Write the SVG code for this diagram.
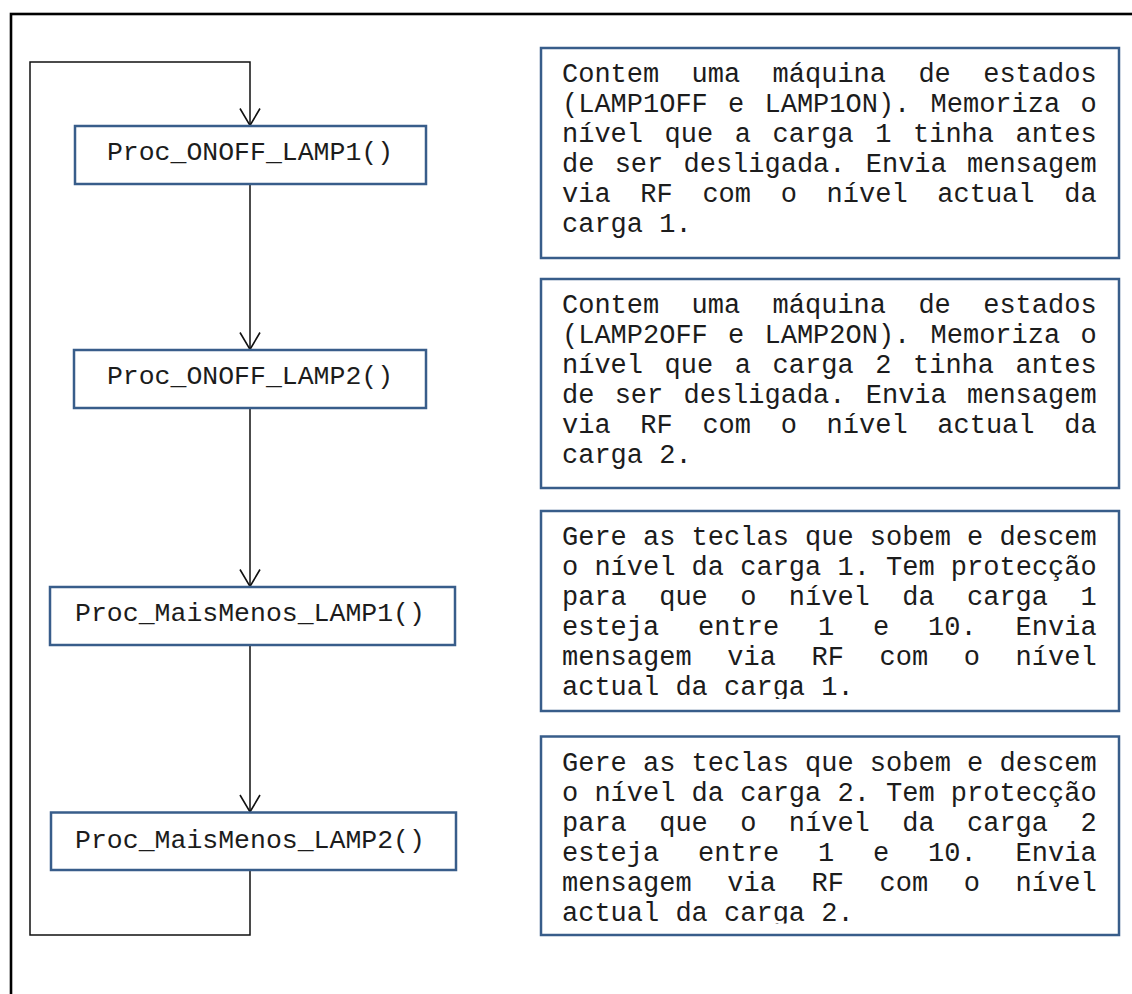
<svg xmlns="http://www.w3.org/2000/svg" width="1132" height="994" viewBox="0 0 1132 994">
<style>
.frame{fill:none;stroke:#000;stroke-width:2.6}
.box{fill:#fff;stroke:#385D8A;stroke-width:2.5}
.lbl{font-family:"Liberation Mono","Courier New",monospace;font-size:26.5px;fill:#1c1c1c;text-anchor:middle}
.txt{font-family:"Liberation Mono","Courier New",monospace;font-size:27px;fill:#1c1c1c}
.conn{fill:none;stroke:#111;stroke-width:1.5}
</style>
<defs>
<marker id="arr" markerUnits="userSpaceOnUse" markerWidth="24" markerHeight="26" viewBox="-20 -13 24 26" refX="0" refY="0" orient="auto" overflow="visible">
<path d="M -17 -10 L 0 0 L -17 10" fill="none" stroke="#111" stroke-width="1.6"/>
</marker>
<clipPath id="clipC"><rect x="541" y="511" width="578" height="188"/></clipPath>
<clipPath id="clipD"><rect x="541" y="736" width="578" height="187.5"/></clipPath>
</defs>
<rect width="1132" height="994" fill="#fff"/>
<rect class="frame" x="11" y="14" width="1140" height="1000"/>

<g id="connectors">
<path class="conn" d="M250 870 V935 H30 V62 H250 V125.5" marker-end="url(#arr)"/>
<path class="conn" d="M250 184 V349.5" marker-end="url(#arr)"/>
<path class="conn" d="M250 408 V586.5" marker-end="url(#arr)"/>
<path class="conn" d="M250 645 V812" marker-end="url(#arr)"/>
</g>

<g id="node-onoff-lamp1">
<rect class="box" x="75" y="126" width="351" height="58"/>
<text class="lbl" x="250" y="160">Proc_ONOFF_LAMP1()</text>
</g>
<g id="node-onoff-lamp2">
<rect class="box" x="74" y="350" width="352" height="58"/>
<text class="lbl" x="250" y="384">Proc_ONOFF_LAMP2()</text>
</g>
<g id="node-maismenos-lamp1">
<rect class="box" x="50" y="587" width="405" height="58"/>
<text class="lbl" x="250" y="621">Proc_MaisMenos_LAMP1()</text>
</g>
<g id="node-maismenos-lamp2">
<rect class="box" x="51" y="812.5" width="405" height="57.5"/>
<text class="lbl" x="250" y="848">Proc_MaisMenos_LAMP2()</text>
</g>

<g id="note-lamp1-onoff">
<rect class="box" x="541" y="48" width="578" height="210"/>
<text class="txt" y="82"><tspan x="562">Contem</tspan><tspan x="691.6">uma</tspan><tspan x="772.6">máquina</tspan><tspan x="918.4">de</tspan><tspan x="983.2">estados</tspan></text>
<text class="txt" y="112"><tspan x="562">(LAMP1OFF</tspan><tspan x="728.05">e</tspan><tspan x="764.5">LAMP1ON).</tspan><tspan x="930.55">Memoriza</tspan><tspan x="1080.4">o</tspan></text>
<text class="txt" y="142"><tspan x="562">nível</tspan><tspan x="664.6">que</tspan><tspan x="734.8">a</tspan><tspan x="772.6">carga</tspan><tspan x="875.2">1</tspan><tspan x="913">tinha</tspan><tspan x="1015.6">antes</tspan></text>
<text class="txt" y="172"><tspan x="562">de</tspan><tspan x="614.65">ser</tspan><tspan x="683.5">desligada.</tspan><tspan x="865.75">Envia</tspan><tspan x="967">mensagem</tspan></text>
<text class="txt" y="202"><tspan x="562">via</tspan><tspan x="640.3">RF</tspan><tspan x="702.4">com</tspan><tspan x="780.7">o</tspan><tspan x="826.6">nível</tspan><tspan x="937.3">actual</tspan><tspan x="1064.2">da</tspan></text>
<text class="txt" x="562" y="232">carga 1.</text>
</g>

<g id="note-lamp2-onoff">
<rect class="box" x="541" y="279" width="578" height="209"/>
<text class="txt" y="313"><tspan x="562">Contem</tspan><tspan x="691.6">uma</tspan><tspan x="772.6">máquina</tspan><tspan x="918.4">de</tspan><tspan x="983.2">estados</tspan></text>
<text class="txt" y="343"><tspan x="562">(LAMP2OFF</tspan><tspan x="728.05">e</tspan><tspan x="764.5">LAMP2ON).</tspan><tspan x="930.55">Memoriza</tspan><tspan x="1080.4">o</tspan></text>
<text class="txt" y="373"><tspan x="562">nível</tspan><tspan x="664.6">que</tspan><tspan x="734.8">a</tspan><tspan x="772.6">carga</tspan><tspan x="875.2">2</tspan><tspan x="913">tinha</tspan><tspan x="1015.6">antes</tspan></text>
<text class="txt" y="403"><tspan x="562">de</tspan><tspan x="614.65">ser</tspan><tspan x="683.5">desligada.</tspan><tspan x="865.75">Envia</tspan><tspan x="967">mensagem</tspan></text>
<text class="txt" y="433"><tspan x="562">via</tspan><tspan x="640.3">RF</tspan><tspan x="702.4">com</tspan><tspan x="780.7">o</tspan><tspan x="826.6">nível</tspan><tspan x="937.3">actual</tspan><tspan x="1064.2">da</tspan></text>
<text class="txt" x="562" y="463">carga 2.</text>
</g>

<g id="note-lamp1-maismenos">
<rect class="box" x="541" y="511" width="578" height="200"/>
<g clip-path="url(#clipC)">
<text class="txt" x="562" y="545">Gere as teclas que sobem e descem</text>
<text class="txt" x="562" y="575">o nível da carga 1. Tem protecção</text>
<text class="txt" y="605"><tspan x="562">para</tspan><tspan x="659.2">que</tspan><tspan x="740.2">o</tspan><tspan x="788.8">nível</tspan><tspan x="902.2">da</tspan><tspan x="967">carga</tspan><tspan x="1080.4">1</tspan></text>
<text class="txt" y="635"><tspan x="562">esteja</tspan><tspan x="698.08">entre</tspan><tspan x="817.96">1</tspan><tspan x="873.04">e</tspan><tspan x="928.12">10.</tspan><tspan x="1015.6">Envia</tspan></text>
<text class="txt" y="665"><tspan x="562">mensagem</tspan><tspan x="727.24">via</tspan><tspan x="811.48">RF</tspan><tspan x="879.52">com</tspan><tspan x="963.76">o</tspan><tspan x="1015.6">nível</tspan></text>
<text class="txt" x="562" y="695">actual da carga 1.</text>
</g>
</g>

<g id="note-lamp2-maismenos">
<rect class="box" x="541" y="736.5" width="578" height="198.5"/>
<g clip-path="url(#clipD)">
<text class="txt" x="562" y="771">Gere as teclas que sobem e descem</text>
<text class="txt" x="562" y="801">o nível da carga 2. Tem protecção</text>
<text class="txt" y="831"><tspan x="562">para</tspan><tspan x="659.2">que</tspan><tspan x="740.2">o</tspan><tspan x="788.8">nível</tspan><tspan x="902.2">da</tspan><tspan x="967">carga</tspan><tspan x="1080.4">2</tspan></text>
<text class="txt" y="861"><tspan x="562">esteja</tspan><tspan x="698.08">entre</tspan><tspan x="817.96">1</tspan><tspan x="873.04">e</tspan><tspan x="928.12">10.</tspan><tspan x="1015.6">Envia</tspan></text>
<text class="txt" y="891"><tspan x="562">mensagem</tspan><tspan x="727.24">via</tspan><tspan x="811.48">RF</tspan><tspan x="879.52">com</tspan><tspan x="963.76">o</tspan><tspan x="1015.6">nível</tspan></text>
<text class="txt" x="562" y="921">actual da carga 2.</text>
</g>
</g>
</svg>
